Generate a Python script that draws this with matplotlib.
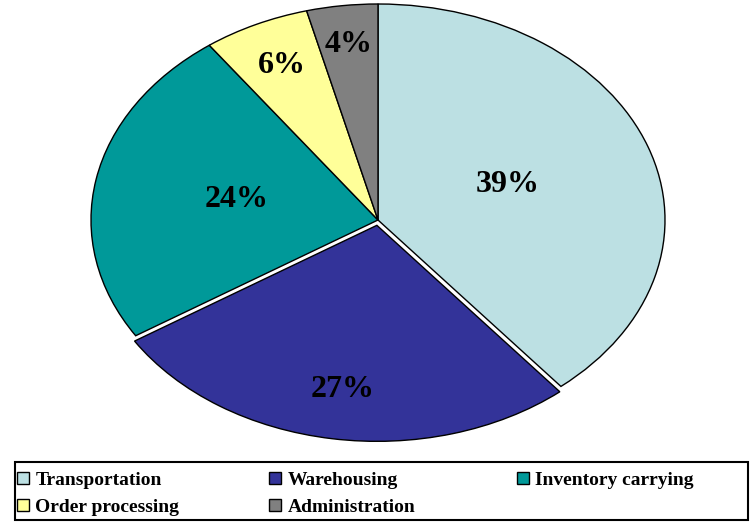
import matplotlib
matplotlib.use("Agg")
import matplotlib.pyplot as plt
from matplotlib.patches import Patch, Rectangle
import numpy as np

# Parts du coût logistique
categories = ["Transportation", "Warehousing", "Inventory carrying",
              "Order processing", "Administration"]
values = [39, 27, 24, 6, 4]
colors = ["#BCE0E3", "#333399", "#009999", "#FFFF99", "#808080"]

# distance radiale des étiquettes, par tranche
label_dist = [0.48, 0.77, 0.50, 0.79, 0.82]
explode = [0, 0.025, 0, 0, 0]

plt.rcParams["font.family"] = ["Liberation Serif", "DejaVu Serif"]

fig = plt.figure(figsize=(7.53, 5.23), dpi=100)
# pie drawn in a non-equal aspect axes -> ellipse
ax = fig.add_axes([(378 - 287) / 753, (523 - 220 - 216) / 523, 574 / 753, 432 / 523])
wedges, _ = ax.pie(values, colors=colors, startangle=90, counterclock=False,
                   explode=explode,
                   wedgeprops=dict(edgecolor="black", linewidth=1.0))
ax.set_xlim(-1, 1)
ax.set_ylim(-1, 1)
ax.set_aspect("auto")
ax.axis("off")

for w, v, d in zip(wedges, values, label_dist):
    ang = np.deg2rad((w.theta1 + w.theta2) / 2)
    cx, cy = w.center
    ax.text(cx + d * np.cos(ang), cy + d * np.sin(ang), f"{v}%",
            ha="center", va="center", fontsize=23, fontweight="bold")

# legend box, 3 fixed-width columns like the Excel one
fig.patches.append(Rectangle((15 / 753, 3 / 523), 733 / 753, 58 / 523,
                             transform=fig.transFigure, fill=False,
                             edgecolor="black", linewidth=1.5))
handles = [Patch(facecolor=c, edgecolor="black", linewidth=1.0) for c in colors]
columns = [[0, 3], [1, 4], [2]]
col_x = [17, 269, 517]
for idx, x in zip(columns, col_x):
    fig.legend([handles[i] for i in idx], [categories[i] for i in idx],
               loc="upper left", bbox_to_anchor=(x / 753, 1 - 472 / 523),
               frameon=False, prop=dict(size=14, weight="bold"),
               handlelength=0.6, handleheight=0.6, handletextpad=0.35,
               labelspacing=0.5, borderpad=0, borderaxespad=0)

fig.savefig("out.png", dpi=100)
